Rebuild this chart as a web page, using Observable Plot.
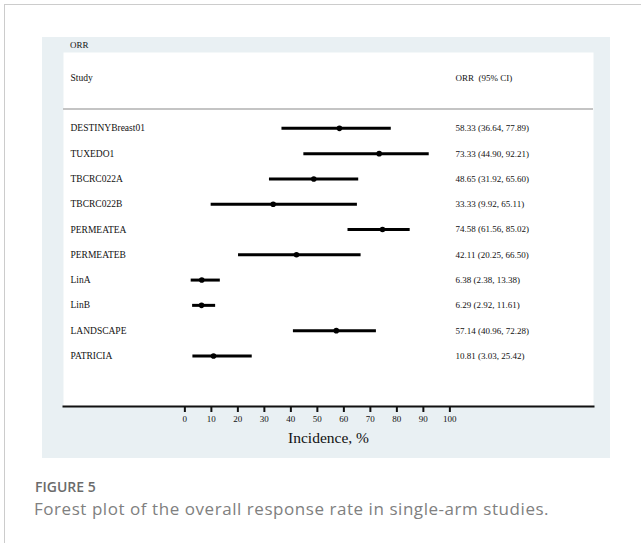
<!DOCTYPE html>
<html>
<head>
<meta charset="utf-8">
<script src="https://cdn.jsdelivr.net/npm/d3@7"></script>
<script src="https://cdn.jsdelivr.net/npm/@observablehq/plot@0.6"></script>
<style>
  html, body { margin: 0; padding: 0; background: #fff; }
  body { width: 641px; height: 546px; position: relative; overflow: hidden; }
  #border { position: absolute; left: 4px; top: 4px; width: 640px; height: 538px;
            border-left: 1.5px solid #cccccc; border-top: 1.5px solid #cccccc; }
  #panel { position: absolute; left: 42px; top: 37px; width: 568px; height: 421px; background: #e9f0f3; }
  #orr { position: absolute; left: 28px; top: 4px; font: 9px/9px "Liberation Serif", "Times New Roman", serif; color: #111; }
  #chart { position: absolute; left: 0; top: 15px; }
  #fig { position: absolute; left: 35px; top: 478px; font: 600 14px/18px "Open Sans", Lato, sans-serif; color: #6b6b6b; }
  #cap { position: absolute; left: 34px; top: 498px; font: 17px/22px "Open Sans", Lato, sans-serif; letter-spacing: 0.55px; color: #808080; white-space: nowrap; }
</style>
</head>
<body>
<div id="border"></div>
<div id="panel">
  <div id="orr">ORR</div>
  <div id="chart"></div>
</div>
<div id="fig">FIGURE 5</div>
<div id="cap">Forest plot of the overall response rate in single-arm studies.</div>
<script>
const studies = ["DESTINYBreast01", "TUXEDO1", "TBCRC022A", "TBCRC022B", "PERMEATEA",
                 "PERMEATEB", "LinA", "LinB", "LANDSCAPE", "PATRICIA"];
const orr   = [58.33, 73.33, 48.65, 33.33, 74.58, 42.11, 6.38, 6.29, 57.14, 10.81];
const lower = [36.64, 44.90, 31.92,  9.92, 61.56, 20.25, 2.38, 2.92, 40.96,  3.03];
const upper = [77.89, 92.21, 65.60, 65.11, 85.02, 66.50, 13.38, 11.61, 72.28, 25.42];
const xTicks = [0, 10, 20, 30, 40, 50, 60, 70, 80, 90, 100];
const headerStudy = "Study";
const headerCI = "ORR\u00a0 (95% CI)";
const axisLabel = "Incidence, %";

const rows = studies.map((s, i) => ({
  study: s, i, orr: orr[i], lo: lower[i], hi: upper[i],
  ci: `${orr[i].toFixed(2)} (${lower[i].toFixed(2)}, ${upper[i].toFixed(2)})`
}));

const serif = "'Liberation Serif', 'Times New Roman', serif";

const chart = Plot.plot({
  width: 568,
  height: 406,
  marginLeft: 21,
  marginRight: 17,
  marginTop: 0,
  marginBottom: 52,
  style: { background: "transparent", fontFamily: serif, overflow: "visible", color: "#111" },
  x: { domain: [-45.8, 154.2], axis: null },
  y: { domain: [-3, 11], reverse: true, axis: null },
  marks: [
    Plot.frame({ fill: "white", stroke: "none" }),
    Plot.ruleY([-0.77], { stroke: "#c4c4c4", strokeWidth: 2 }),
    Plot.frame({ anchor: "bottom", stroke: "#111", strokeWidth: 2 }),
    Plot.axisX(xTicks, { anchor: "bottom", tickSize: 6, tickPadding: 3, strokeWidth: 2, fontSize: 9, label: null, tickFormat: d => String(d) }),
    Plot.text([axisLabel], { frameAnchor: "bottom", lineAnchor: "middle", dy: 32, fontSize: 15.5, fill: "#111" }),
    Plot.text([headerStudy], { frameAnchor: "left", y: () => -2, dx: 7, textAnchor: "start", fontSize: 9.5, fill: "#111" }),
    Plot.text([headerCI], { frameAnchor: "right", y: () => -2, dx: -138, textAnchor: "start", fontSize: 9, fill: "#111" }),
    Plot.text(rows, { frameAnchor: "left", y: "i", text: "study", dx: 7, textAnchor: "start", fontSize: 9.5, fill: "#111" }),
    Plot.text(rows, { frameAnchor: "right", y: "i", text: "ci", dx: -138, textAnchor: "start", fontSize: 9, fill: "#111" }),
    Plot.ruleY(rows, { x1: "lo", x2: "hi", y: "i", stroke: "#000", strokeWidth: 3 }),
    Plot.dot(rows, { x: "orr", y: "i", r: 2.8, fill: "#000", stroke: "none" })
  ]
});
document.getElementById("chart").appendChild(chart);
</script>
</body>
</html>
